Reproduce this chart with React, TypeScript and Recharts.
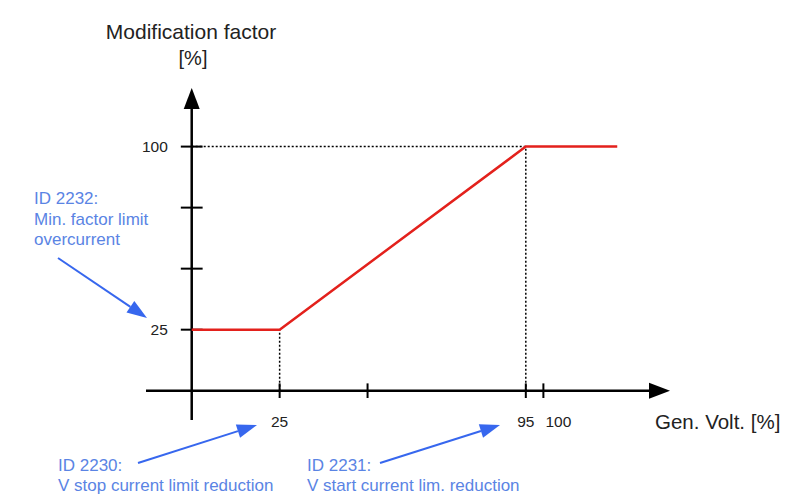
import React from 'react'
import { LineChart, Line, XAxis, YAxis, ReferenceLine } from 'recharts'

// curve: modification factor vs generator voltage
const voltage = [0, 25, 95, 121]
const factor = [25, 25, 100, 100]

const xTicks = [25, 50, 95, 100]
const xTickLabels = ['25', '', '95', '100']
const yTicks = [25, 50, 75, 100]
const yTickLabels = ['25', '', '', '100']

const X_DOMAIN: [number, number] = [-13, 136]
const Y_DOMAIN: [number, number] = [-12, 124]

const data = voltage.map((v, i) => ({ voltage: v, factor: factor[i] }))

const FONT = '"Liberation Sans", Arial, sans-serif'
const BLUE_TEXT = '#5a84e4'
const BLUE_ARROW = '#3767ee'

const ArrowLine = (p: any) => {
  const { x1, y1, x2, y2 } = p
  const dx = x2 - x1
  const dy = y2 - y1
  const len = Math.sqrt(dx * dx + dy * dy) || 1
  const ux = dx / len
  const uy = dy / len
  const head = 21
  const half = 8
  const bx = x2 - ux * head
  const by = y2 - uy * head
  const pts = `${x2},${y2} ${bx - uy * half},${by + ux * half} ${bx + uy * half},${by - ux * half}`
  return (
    <g>
      <line x1={x1} y1={y1} x2={bx} y2={by} stroke="#000" strokeWidth={2.5} />
      <polygon points={pts} fill="#000" />
    </g>
  )
}

const blueArrow = (x1: number, y1: number, x2: number, y2: number) => {
  const dx = x2 - x1
  const dy = y2 - y1
  const len = Math.sqrt(dx * dx + dy * dy)
  const ux = dx / len
  const uy = dy / len
  const head = 20
  const half = 7
  const bx = x2 - ux * head
  const by = y2 - uy * head
  return (
    <g>
      <line x1={x1} y1={y1} x2={bx} y2={by} stroke={BLUE_ARROW} strokeWidth={2} />
      <polygon
        points={`${x2},${y2} ${bx - uy * half},${by + ux * half} ${bx + uy * half},${by - ux * half}`}
        fill={BLUE_ARROW}
      />
    </g>
  )
}

// x tick label under the tick; "100" sits just right of its tick like in the drawing
const xLabel = (text: string) => (props: any) => {
  const vb = props.viewBox
  if (!text || !vb) return null
  const cx = vb.x + (vb.width || 0) / 2
  const shifted = text === '100'
  return (
    <text
      x={shifted ? cx + 2 : cx}
      y={vb.y + vb.height + 29}
      textAnchor={shifted ? 'start' : 'middle'}
      fontSize={15.5}
      fontFamily={FONT}
      fill="#222"
    >
      {text}
    </text>
  )
}

const yLabel = (text: string) => (props: any) => {
  const vb = props.viewBox
  if (!text || !vb) return null
  return (
    <text x={vb.x - 13} y={vb.y + 5.5} textAnchor="end" fontSize={15.5} fontFamily={FONT} fill="#222">
      {text}
    </text>
  )
}

export default function App() {
  return (
    <div style={{ position: 'absolute', left: 0, top: 0, width: 804, height: 503, background: '#fff' }}>
      <LineChart width={804} height={503} data={data} margin={{ top: 88, left: 146, right: 134, bottom: 83 }}>
        <XAxis dataKey="voltage" type="number" domain={X_DOMAIN} allowDataOverflow hide />
        <YAxis type="number" domain={Y_DOMAIN} allowDataOverflow hide />

        {/* dotted guides */}
        <ReferenceLine segment={[{ x: 0, y: 100 }, { x: 95, y: 100 }]} stroke="#000" strokeWidth={1.5} strokeDasharray="2 2" />
        <ReferenceLine segment={[{ x: 95, y: 0 }, { x: 95, y: 100 }]} stroke="#000" strokeWidth={1.5} strokeDasharray="2 2" />
        <ReferenceLine segment={[{ x: 25, y: 0 }, { x: 25, y: 25 }]} stroke="#000" strokeWidth={1.5} strokeDasharray="2 2" />

        {/* axes with arrows */}
        <ReferenceLine segment={[{ x: X_DOMAIN[0], y: 0 }, { x: X_DOMAIN[1], y: 0 }]} shape={ArrowLine} />
        <ReferenceLine segment={[{ x: 0, y: Y_DOMAIN[0] }, { x: 0, y: Y_DOMAIN[1] }]} shape={ArrowLine} />

        {xTicks.map((t, i) => (
          <ReferenceLine
            key={`xt-${t}`}
            segment={[{ x: t, y: -3 }, { x: t, y: 3 }]}
            stroke="#000"
            strokeWidth={2}
            label={{ content: xLabel(xTickLabels[i]) }}
          />
        ))}
        {yTicks.map((t, i) => (
          <ReferenceLine
            key={`yt-${t}`}
            segment={[{ x: -3.1, y: t }, { x: 3.1, y: t }]}
            stroke="#000"
            strokeWidth={2}
            label={{ content: yLabel(yTickLabels[i]) }}
          />
        ))}

        <Line
          type="linear"
          dataKey="factor"
          stroke="#e3211c"
          strokeWidth={2.5}
          dot={false}
          activeDot={false}
          isAnimationActive={false}
        />
      </LineChart>

      <svg width={804} height={503} style={{ position: 'absolute', left: 0, top: 0, pointerEvents: 'none' }}>
        <g fontFamily={FONT} fill="#222">
          <text x={191} y={39} fontSize={21} textAnchor="middle">Modification factor</text>
          <text x={193} y={65} fontSize={20} textAnchor="middle">[%]</text>
          <text x={655} y={429} fontSize={20.5}>Gen. Volt. [%]</text>
        </g>
        <g fontFamily={FONT} fill={BLUE_TEXT} fontSize={17}>
          <text x={34} y={204}>ID 2232:</text>
          <text x={34} y={225}>Min. factor limit</text>
          <text x={34} y={245}>overcurrent</text>
          <text x={58} y={471}>ID 2230:</text>
          <text x={58} y={491}>V stop current limit reduction</text>
          <text x={307} y={471}>ID 2231:</text>
          <text x={307} y={491}>V start current lim. reduction</text>
        </g>
        {blueArrow(58, 258, 147, 318)}
        {blueArrow(138, 463, 257, 425)}
        {blueArrow(380, 463, 500, 425)}
      </svg>
    </div>
  )
}
